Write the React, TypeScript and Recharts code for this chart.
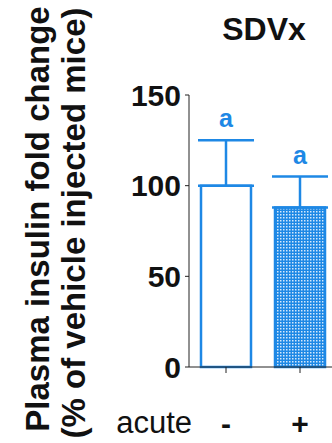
import { BarChart, Bar, XAxis, YAxis, Cell, ErrorBar, LabelList, Label } from 'recharts';

const groups = ['-', '+'];
const insulin = [100, 88];
const sem = [25, 17];
const letters = ['a', 'a'];
const yTicks = [0, 50, 100, 150];

const BLUE = '#1e88e5';
const FONT = '"Liberation Sans", Arial, sans-serif';

const data = groups.map((g, i) => ({
  group: g,
  value: insulin[i],
  err: [0, sem[i]],
  sem: sem[i],
  letter: letters[i],
}));

export default function App() {
  return (
    <div style={{ position: 'absolute', left: 0, top: 0, width: 332, height: 443, overflow: 'hidden', background: '#fff' }}>
      <BarChart
        width={340}
        height={443}
        data={data}
        margin={{ top: 95, right: 3, left: 0, bottom: 0 }}
        barCategoryGap={0}
      >
        <defs>
          <pattern id="dots" width="3" height="3" patternUnits="userSpaceOnUse">
            <rect width="3" height="3" fill={BLUE} />
            <rect x="1" y="1" width="1.5" height="1.5" fill="#d4e8fb" />
          </pattern>
        </defs>
        <text x={264} y={40} textAnchor="middle" fontFamily={FONT} fontWeight="bold" fontSize={32} fill="#111">
          SDVx
        </text>
        <XAxis
          dataKey="group"
          height={76}
          stroke="#222"
          tickSize={6}
          tickMargin={2}
          tick={(p: any) => (
            <text x={p.x} y={p.y} dy={59} textAnchor="middle" fontFamily={FONT} fontWeight="bold" fontSize={30} fill="#111">
              {p.payload.value}
            </text>
          )}
        >
          <Label
            content={(p: any) => (
              <text x={p.viewBox.x + 3} y={p.viewBox.y + 66} textAnchor="end" fontFamily={FONT} fontSize={31} fill="#111">
                acute
              </text>
            )}
          />
        </XAxis>
        <YAxis
          domain={[0, 150]}
          ticks={yTicks}
          width={189}
          stroke="#222"
          tickSize={4}
          tickMargin={4}
          tick={{ fontFamily: FONT, fontWeight: 'bold', fontSize: 30, fill: '#111' }}
          interval={0}
        >
          <Label
            content={() => (
              <g fontFamily={FONT} fontWeight="bold" fontSize={33} fill="#111">
                <text transform="translate(49,219) rotate(-90)" textAnchor="middle">
                  Plasma insulin fold change
                </text>
                <text transform="translate(85,223) rotate(-90)" textAnchor="middle">
                  (% of vehicle injected mice)
                </text>
              </g>
            )}
          />
        </YAxis>
        <Bar dataKey="value" barSize={50} stroke={BLUE} strokeWidth={2.5} isAnimationActive={false}>
          {data.map((d, i) => (
            <Cell key={i} fill={i === 0 ? '#fff' : 'url(#dots)'} />
          ))}
          <ErrorBar dataKey="err" width={28} stroke={BLUE} strokeWidth={2.5} isAnimationActive={false} />
          <LabelList
            dataKey="letter"
            content={(p: any) => {
              const d = data[p.index];
              const perUnit = p.height / d.value;
              const top = p.y - d.sem * perUnit;
              return (
                <text x={p.x + p.width / 2} y={top - 13} textAnchor="middle" fontFamily={FONT} fontWeight="bold" fontSize={25} fill={BLUE}>
                  {p.value}
                </text>
              );
            }}
          />
        </Bar>
      </BarChart>
    </div>
  );
}
